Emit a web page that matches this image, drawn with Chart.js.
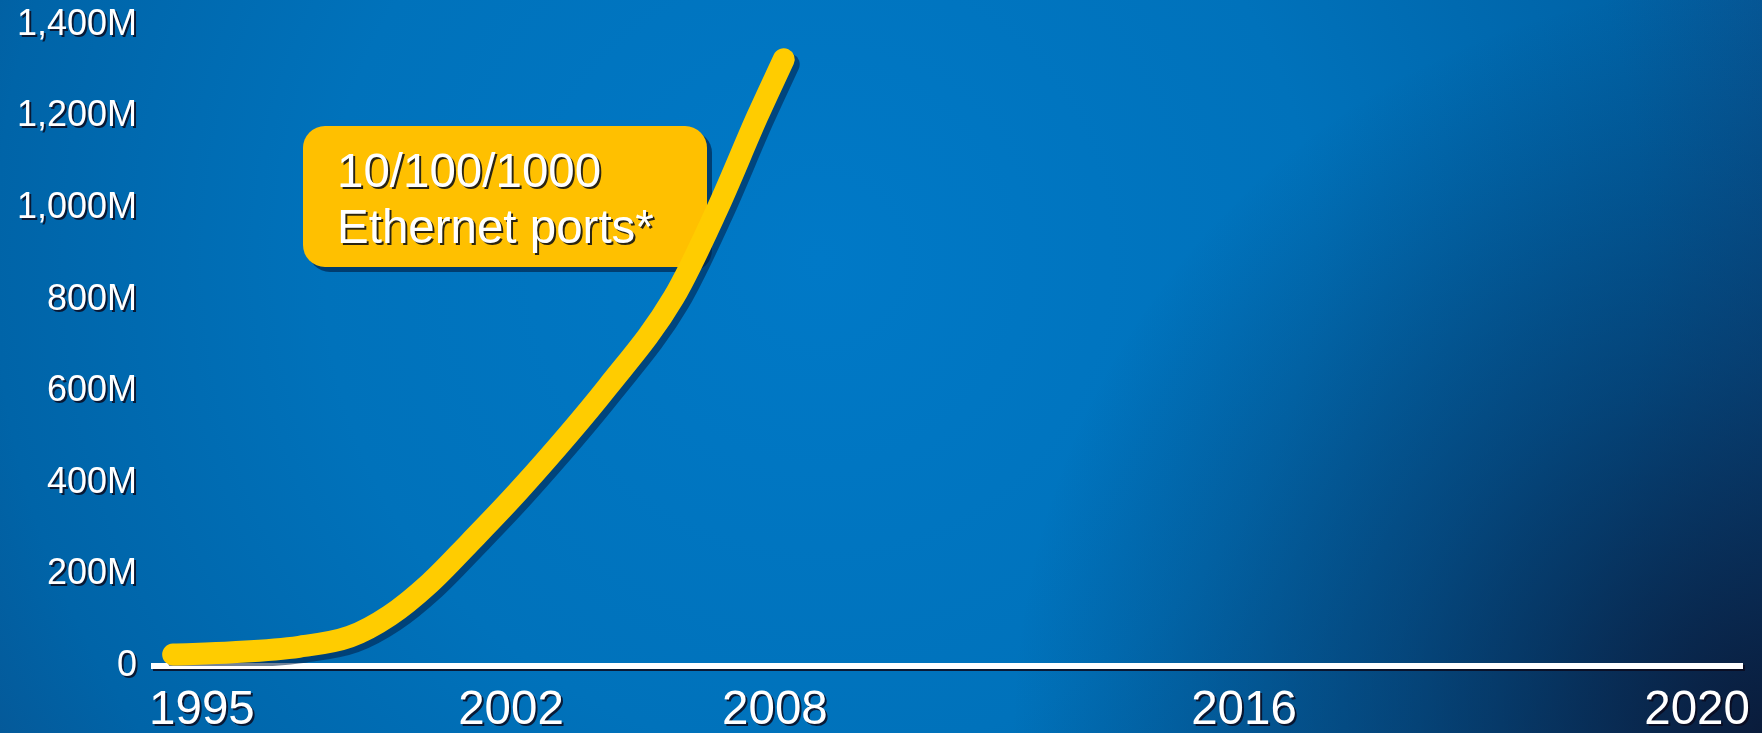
<!DOCTYPE html>
<html>
<head>
<meta charset="utf-8">
<script src="https://cdn.jsdelivr.net/npm/chart.js@4/dist/chart.umd.min.js"></script>
<style>
  html, body { margin: 0; padding: 0; background: #0068ac; }
  #wrap { width: 1762px; height: 733px; position: relative; }
</style>
</head>
<body>
<div id="wrap"><canvas id="ports-chart"></canvas></div>
<script>
// year labels under the axis, and the y ticks (millions of ports)
const yearLabels = [1995, 2002, 2008, 2016, 2020];
const yTicks = [0, 200, 400, 600, 800, 1000, 1200, 1400];

// 10/100/1000 Ethernet ports shipped, millions
const portYears = [1994.4, 1995.7, 1997.2, 1998.35, 1999.25, 2000.15, 2001.05, 2002.2, 2004.2, 2005.7, 2006.7, 2007.6, 2008.15];
const portValues = [25, 30, 42, 64, 110, 180, 268, 385, 610, 805, 1000, 1200, 1325];

const calloutLines = ['10/100/1000', 'Ethernet ports*'];

// the slide's year axis is not evenly spaced, so map years piecewise
class PiecewiseScale extends Chart.LinearScale {
  getPixelForValue(value) {
    const yrs = this.options.breaks.years;
    const fr = this.options.breaks.fractions;
    let i = 0;
    while (i < yrs.length - 2 && value > yrs[i + 1]) i++;
    const t = (value - yrs[i]) / (yrs[i + 1] - yrs[i]);
    return this.getPixelForDecimal(fr[i] + t * (fr[i + 1] - fr[i]));
  }
  getValueForPixel(pixel) {
    const yrs = this.options.breaks.years;
    const fr = this.options.breaks.fractions;
    const d = (pixel - this._startPixel) / this._length;
    let i = 0;
    while (i < fr.length - 2 && d > fr[i + 1]) i++;
    const t = (d - fr[i]) / (fr[i + 1] - fr[i]);
    return yrs[i] + t * (yrs[i + 1] - yrs[i]);
  }
}
PiecewiseScale.id = 'piecewise';
PiecewiseScale.defaults = {};
Chart.register(PiecewiseScale);

const TEXT_FONT = '"Liberation Sans", Arial, sans-serif';

// labels may hang past the plot area, like on the slide
function noOverflow(scale) {
  scale.paddingLeft = 0;
  scale.paddingRight = 0;
  scale.paddingTop = 0;
  scale.paddingBottom = 0;
}

const slidePlugin = {
  id: 'slide',
  beforeDraw(chart) {
    const ctx = chart.ctx;
    const w = chart.width, h = chart.height;
    ctx.save();
    let g = ctx.createRadialGradient(820, 260, 0, 820, 260, 1100);
    g.addColorStop(0, '#0079c7');
    g.addColorStop(0.45, '#0072bb');
    g.addColorStop(0.75, '#0064a8');
    g.addColorStop(1, '#0a4d88');
    ctx.fillStyle = g;
    ctx.fillRect(0, 0, w, h);
    // dark corner bottom right
    g = ctx.createRadialGradient(w, h, 0, w, h, 750);
    g.addColorStop(0, 'rgba(10,25,55,0.95)');
    g.addColorStop(0.5, 'rgba(10,30,65,0.45)');
    g.addColorStop(1, 'rgba(10,30,65,0)');
    ctx.fillStyle = g;
    ctx.fillRect(0, 0, w, h);
    ctx.restore();
    // text shadow for the axis labels
    ctx.shadowColor = 'rgba(10,10,30,0.85)';
    ctx.shadowOffsetX = 2;
    ctx.shadowOffsetY = 2;
    ctx.shadowBlur = 0;
  },
  beforeDatasetsDraw(chart) {
    const ctx = chart.ctx;
    ctx.shadowColor = 'transparent';
    // callout box
    const x = 303, y = 126, bw = 404, bh = 141, r = 22;
    ctx.save();
    ctx.fillStyle = 'rgba(0,25,60,0.6)';
    ctx.beginPath();
    ctx.roundRect(x + 5, y + 5, bw, bh, r);
    ctx.fill();
    ctx.fillStyle = '#ffc000';
    ctx.beginPath();
    ctx.roundRect(x, y, bw, bh, r);
    ctx.fill();
    ctx.font = '47.5px ' + TEXT_FONT;
    ctx.textBaseline = 'alphabetic';
    ctx.fillStyle = '#ffffff';
    ctx.shadowColor = 'rgba(20,20,20,0.9)';
    ctx.shadowOffsetX = 2;
    ctx.shadowOffsetY = 2;
    calloutLines.forEach((t, i) => ctx.fillText(t, 337, 187 + i * 56));
    ctx.restore();
    // shadow under the yellow curve
    ctx.shadowColor = 'rgba(0,30,70,0.55)';
    ctx.shadowOffsetX = 5;
    ctx.shadowOffsetY = 5;
    ctx.shadowBlur = 0;
  },
  afterDatasetsDraw(chart) {
    chart.ctx.shadowColor = 'transparent';
  }
};

const ctx = document.getElementById('ports-chart').getContext('2d');
new Chart(ctx, {
  type: 'line',
  data: {
    datasets: [{
      label: '10/100/1000 Ethernet ports',
      data: portYears.map((yr, i) => ({ x: yr, y: portValues[i] })),
      borderColor: '#ffcc00',
      borderWidth: 22,
      borderCapStyle: 'round',
      borderJoinStyle: 'round',
      cubicInterpolationMode: 'monotone',
      pointRadius: 0,
      fill: false
    }]
  },
  options: {
    responsive: true,
    maintainAspectRatio: false,
    animation: false,
    layout: { padding: { top: 25, right: 20, left: 0, bottom: 0 } },
    plugins: {
      legend: { display: false },
      tooltip: { enabled: false }
    },
    scales: {
      x: {
        type: 'piecewise',
        min: 1994,
        max: 2020.4,
        breaks: {
          years: [1994, 1995, 2002, 2008, 2016, 2020, 2020.4],
          fractions: [0, 0.0302, 0.2248, 0.391, 0.6864, 0.9717, 1]
        },
        afterBuildTicks: scale => { scale.ticks = yearLabels.map(v => ({ value: v })); },
        afterFit: scale => { scale.height = 67; noOverflow(scale); },
        grid: { display: false, drawTicks: false },
        border: { display: true, color: '#ffffff', width: 6 },
        ticks: {
          autoSkip: false,
          maxRotation: 0,
          padding: 21,
          color: '#ffffff',
          font: { family: TEXT_FONT, size: 47.5, lineHeight: 1 },
          callback: v => String(v)
        }
      },
      y: {
        min: 0,
        max: 1400,
        afterBuildTicks: scale => { scale.ticks = yTicks.map(v => ({ value: v })); },
        afterFit: scale => { scale.width = 154; noOverflow(scale); },
        grid: { display: false, drawTicks: false },
        border: { display: false },
        ticks: {
          padding: 17,
          color: '#ffffff',
          font: { family: TEXT_FONT, size: 36, lineHeight: 1 },
          callback: v => v === 0 ? '0' : v.toLocaleString('en-US') + 'M'
        }
      }
    }
  },
  plugins: [slidePlugin]
});
</script>
</body>
</html>
